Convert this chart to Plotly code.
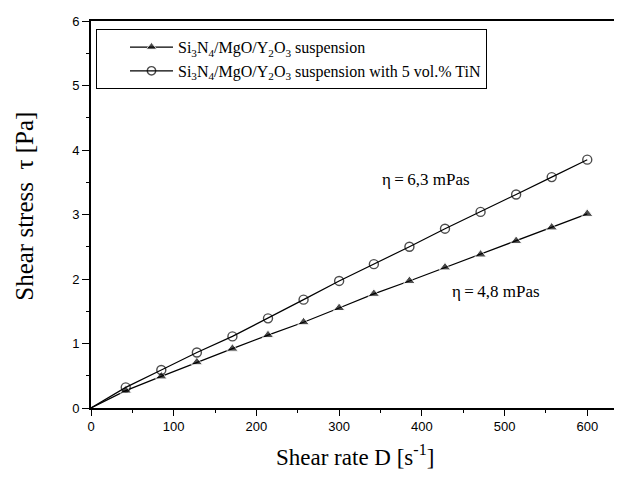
import plotly.graph_objects as go

shear_rate = [0, 42, 85, 128, 171, 214, 257, 300, 342, 385, 428, 471, 514, 557, 600]
stress_base = [0, 0.27, 0.49, 0.71, 0.92, 1.13, 1.33, 1.55, 1.77, 1.97, 2.18, 2.38, 2.59, 2.80, 3.01]
stress_tin = [0, 0.32, 0.59, 0.86, 1.11, 1.39, 1.68, 1.97, 2.23, 2.50, 2.78, 3.04, 3.31, 3.58, 3.85]

name_base = "Si<sub>3</sub>N<sub>4</sub>/MgO/Y<sub>2</sub>O<sub>3</sub> suspension"
name_tin = "Si<sub>3</sub>N<sub>4</sub>/MgO/Y<sub>2</sub>O<sub>3</sub> suspension with 5 vol.% TiN"

serif = "Liberation Serif, Times New Roman, serif"
sans = "Liberation Sans, Arial, sans-serif"

tri_sizes = [0] + [10] * (len(shear_rate) - 1)
circ_sizes = [0] + [9] * (len(shear_rate) - 1)

fig = go.Figure()
fig.add_trace(go.Scatter(
    x=shear_rate, y=stress_base, mode="lines+markers", name=name_base,
    line=dict(color="black", width=1.2),
    marker=dict(symbol="triangle-up", size=tri_sizes, color="black"),
))
fig.add_trace(go.Scatter(
    x=shear_rate, y=stress_tin, mode="lines+markers", name=name_tin,
    line=dict(color="black", width=1.2),
    marker=dict(symbol="circle-open", size=circ_sizes, color="black", line=dict(width=1.4)),
))

fig.add_annotation(x=405, y=3.55, text="η\u2009=\u20096,3 mPas", showarrow=False,
                   font=dict(family=serif, size=17, color="black"))
fig.add_annotation(x=490, y=1.8, text="η\u2009=\u20094,8 mPas", showarrow=False,
                   font=dict(family=serif, size=17, color="black"))

# axis titles as annotations for precise placement
fig.add_annotation(xref="paper", yref="paper", x=0.497, y=0,
                   yanchor="middle", yshift=-47, showarrow=False,
                   text="Shear rate D [s<sup>-1</sup>]",
                   font=dict(family=serif, size=23, color="black"))
fig.add_annotation(xref="paper", yref="paper", x=0, y=0.52, xanchor="center",
                   xshift=-66, textangle=-90, showarrow=False,
                   text="Shear stress  τ [Pa]",
                   font=dict(family=serif, size=25, color="black"))

fig.update_layout(
    width=614, height=470,
    margin=dict(l=83, r=0, t=13, b=70, autoexpand=False),
    paper_bgcolor="white", plot_bgcolor="white",
    showlegend=True,
    legend=dict(
        x=0.0094, y=0.979, xanchor="left", yanchor="top",
        bordercolor="black", borderwidth=1, bgcolor="white",
        font=dict(family=serif, size=16, color="black"),
        tracegroupgap=0, itemwidth=43, indentation=28,
    ),
    xaxis=dict(
        range=[0, 642], tickvals=[0, 100, 200, 300, 400, 500, 600],
        showline=True, linecolor="black", linewidth=1.6, mirror=True,
        ticks="outside", ticklen=6, tickcolor="black",
        minor=dict(dtick=50, ticks="outside", ticklen=3, tickcolor="black"),
        showgrid=False, zeroline=False,
        tickfont=dict(family=sans, size=13, color="black"),
    ),
    yaxis=dict(
        range=[0, 6], dtick=1,
        showline=True, linecolor="black", linewidth=1.6,
        ticks="outside", ticklen=7, tickcolor="black",
        minor=dict(dtick=0.5, ticks="outside", ticklen=3, tickcolor="black"),
        showgrid=False, zeroline=False,
        tickfont=dict(family=sans, size=13, color="black"),
    ),
)

fig.write_html("out.html")
